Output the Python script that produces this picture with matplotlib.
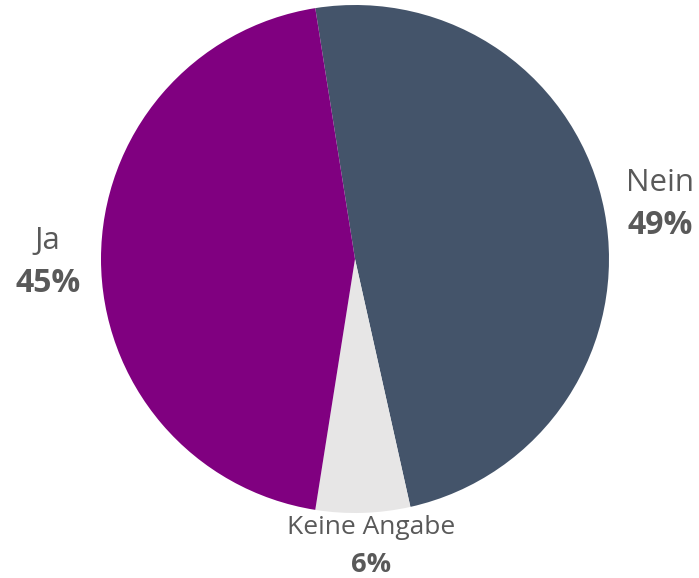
import numpy as np
import matplotlib.pyplot as plt

labels = ['Nein', 'Keine Angabe', 'Ja']
values = [49, 6, 45]
colors = ['#44546A', '#E7E6E6', '#800080']
label_dist = [1.21, 1.12, 1.21]
label_size = [22.5, 19, 22.5]
label_dx = [3, 7, 0]  # pixel nudges

plt.rcParams['font.family'] = ['Open Sans', 'DejaVu Sans']
TXT = '#595959'

W, H = 699, 578
cx, cy, r = 355, 259, 254

fig = plt.figure(figsize=(W / 100, H / 100), dpi=100)
ax = fig.add_axes([0, 0, 1, 1])
ax.axis('off')

start = 99
wedges, _ = ax.pie(values, colors=colors, startangle=start, counterclock=False,
                   radius=1, center=(0, 0), wedgeprops=dict(linewidth=0))
ax.set_xlim(-cx / r, (W - cx) / r)
ax.set_ylim(-(H - cy) / r, cy / r)
ax.set_aspect('auto')

shift = 3 / r
gap = 21 / r
ang = start
for lab, v, d, fs, dx in zip(labels, values, label_dist, label_size, label_dx):
    mid = np.deg2rad(ang - v * 3.6 / 2)
    ang -= v * 3.6
    x, y = d * np.cos(mid) + dx / r, d * np.sin(mid) - shift
    g = gap * (0.88 if fs < 20 else 1.0)
    ax.text(x, y + g, lab, ha='center', va='center', fontsize=fs, color=TXT)
    ax.text(x, y - g, f'{v}%', ha='center', va='center', fontsize=fs + 0.5,
            fontweight='bold', color=TXT)

fig.savefig('out.png', dpi=100)
